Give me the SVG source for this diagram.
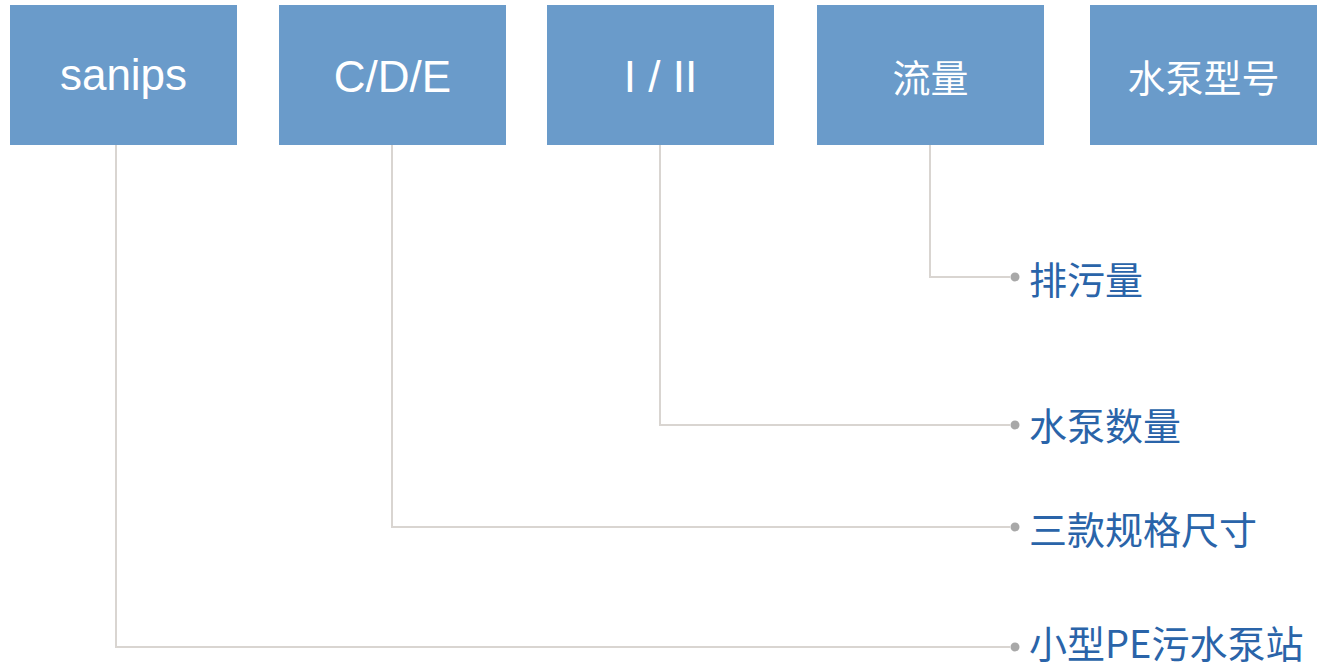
<svg xmlns="http://www.w3.org/2000/svg" width="1320" height="668" viewBox="0 0 1320 668">
<style>
.box{fill:#6a9bca}
.bt{fill:#ffffff;font-family:"Liberation Sans","Noto Sans CJK SC",sans-serif;font-size:44px;text-anchor:middle;dominant-baseline:central}
.bc{fill:#ffffff;font-family:"Noto Sans CJK SC",sans-serif;font-size:38px;text-anchor:middle;dominant-baseline:central}
.ln{fill:none;stroke:#d9d5d1;stroke-width:2}
.dot{fill:#a8a8a8}
.lb{fill:#2a64a9;font-family:"Noto Sans CJK SC",sans-serif;font-size:38px;dominant-baseline:central}
</style>
<rect width="1320" height="668" fill="#ffffff"/>
<g id="connectors">
<polyline class="ln" points="116,145 116,647 1010,647"/>
<polyline class="ln" points="392,145 392,527 1010,527"/>
<polyline class="ln" points="660,145 660,425 1010,425"/>
<polyline class="ln" points="930,145 930,277 1010,277"/>
<circle class="dot" cx="1015" cy="277" r="4.5"/>
<circle class="dot" cx="1015" cy="425" r="4.5"/>
<circle class="dot" cx="1015" cy="527" r="4.5"/>
<circle class="dot" cx="1015" cy="647" r="4.5"/>
</g>
<g id="node-sanips"><rect class="box" x="10" y="5" width="227" height="140"/><text class="bt" x="123.5" y="74">sanips</text></g>
<g id="node-cde"><rect class="box" x="279" y="5" width="227" height="140"/><text class="bt" x="392.5" y="76">C/D/E</text></g>
<g id="node-i-ii"><rect class="box" x="547" y="5" width="227" height="140"/><text class="bt" x="660.5" y="76">I / II</text></g>
<g id="node-flow"><rect class="box" x="817" y="5" width="227" height="140"/><text class="bc" x="930.5" y="75">流量</text></g>
<g id="node-model"><rect class="box" x="1090" y="5" width="227" height="140"/><text class="bc" x="1203.5" y="75">水泵型号</text></g>
<g id="label-1"><text class="lb" x="1029" y="277">排污量</text></g>
<g id="label-2"><text class="lb" x="1029" y="423">水泵数量</text></g>
<g id="label-3"><text class="lb" x="1029" y="527">三款规格尺寸</text></g>
<g id="label-4"><text class="lb" x="1029" y="641">小型PE污水泵站</text></g>
</svg>
